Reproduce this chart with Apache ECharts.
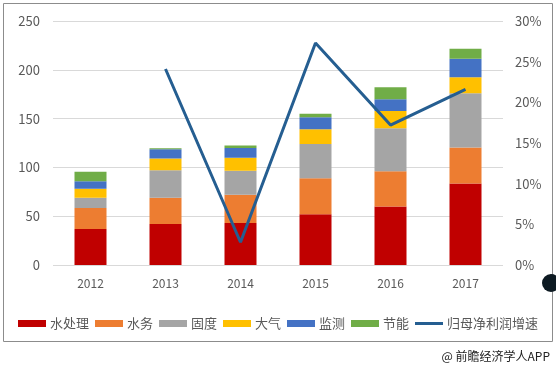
<!DOCTYPE html>
<html><head><meta charset="utf-8">
<script src="https://cdn.jsdelivr.net/npm/echarts@6/dist/echarts.min.js"></script>
<style>html,body{margin:0;padding:0;background:#fff}#c{width:556px;height:368px}</style>
</head><body><div id="c"></div>
<script>
var categories = ['2012','2013','2014','2015','2016','2017'];
var waterTreat = [37, 42, 43, 52, 60, 83.5];
var waterServ  = [21.5, 27, 29, 37, 36, 37];
var solidWaste = [10.5, 28, 24.5, 35, 44, 55.5];
var air        = [9.2, 12, 13.3, 15, 17.8, 16.3];
var monitor    = [7.5, 9.5, 10.2, 12.3, 12, 19];
var energy     = [9.9, 1, 2.4, 3.7, 12.3, 10.2];
var profitGrowth = [null, 24.1, 2.8, 27.3, 17.2, 21.6];
var leftTicks = [0, 50, 100, 150, 200, 250];
var rightTicks = ['0%','5%','10%','15%','20%','25%','30%'];

var names = ['水处理','水务','固度','大气','监测','节能'];
var lineName = '归母净利润增速';
var colors = ['#C00000','#ED7D31','#A5A5A5','#FFC000','#4472C4','#70AD47'];
var barData = [waterTreat, waterServ, solidWaste, air, monitor, energy];
var font = '"Microsoft YaHei","Noto Sans CJK SC",sans-serif';

var series = barData.map(function(d, i){
  return {name: names[i], type: 'bar', stack: 'a', barWidth: 32, data: d,
          itemStyle: {color: colors[i]}};
});
series.push({name: lineName, type: 'line', yAxisIndex: 1, data: profitGrowth,
  symbol: 'none', lineStyle: {color: '#255E91', width: 3}, itemStyle: {color: '#255E91'}});

var chart = echarts.init(document.getElementById('c'));
chart.setOption({
  animation: false,
  textStyle: {fontFamily: font},
  grid: {left: 53, right: 53, top: 21, bottom: 103},
  legend: {
    bottom: 33, left: 'center', itemWidth: 28, itemHeight: 7, itemGap: 6,
    textStyle: {color: '#595959', fontSize: 13, padding: [0,0,0,-1]},
    data: names.map(function(n){return {name: n, icon: 'rect'};})
      .concat([{name: lineName, icon: 'path://M0,0 L28,0 L28,3 L0,3 Z', itemStyle: {color: '#255E91'}}])
  },
  xAxis: {type: 'category', data: categories,
    axisLine: {show: false}, axisTick: {show: false},
    axisLabel: {color: '#595959', fontSize: 12, margin: 12}},
  yAxis: [
    {type: 'value', min: leftTicks[0], max: leftTicks[leftTicks.length-1], interval: 50,
     axisLine: {show: false}, axisTick: {show: false},
     axisLabel: {color: '#595959', fontSize: 13, margin: 13},
     splitLine: {lineStyle: {color: '#D9D9D9'}}},
    {type: 'value', min: 0, max: 30, interval: 5,
     axisLine: {show: false}, axisTick: {show: false},
     axisLabel: {color: '#595959', fontSize: 13, margin: 12,
       formatter: function(v){ return rightTicks[Math.round(v/5)]; }},
     splitLine: {show: false}}
  ],
  graphic: [
    {type: 'rect', shape: {x: 3.5, y: 3.5, width: 549, height: 338}, style: {fill: 'none', stroke: '#8C8C8C', lineWidth: 1}, z: -1},
    {type: 'text', right: 6, top: 350, style: {text: '@ 前瞻经济学人APP', fill: '#222', font: '12px ' + font}},
    {type: 'circle', shape: {cx: 551, cy: 283, r: 9}, style: {fill: '#0d1a22'}}
  ],
  series: series
});
</script></body></html>
